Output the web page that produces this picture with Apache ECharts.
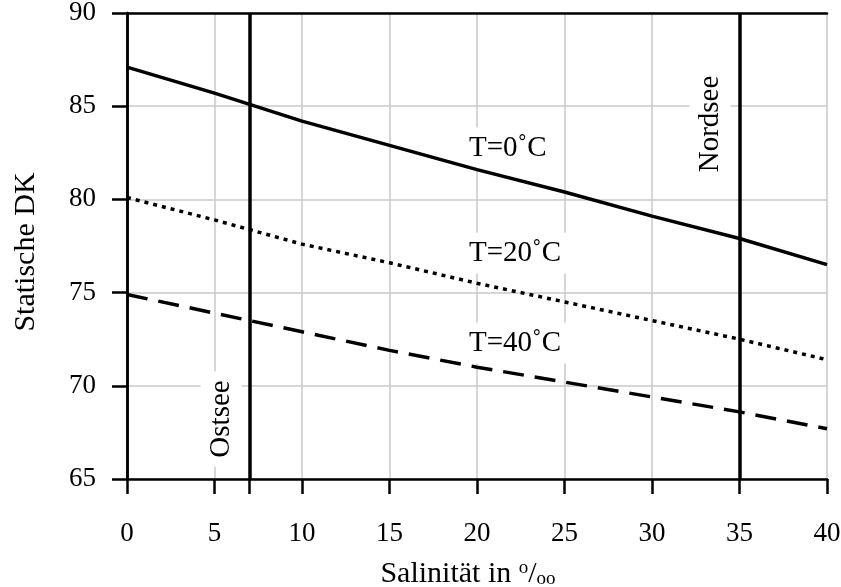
<!DOCTYPE html>
<html lang="de">
<head>
    <meta charset="UTF-8">
    <title>Statische DK von Meerwasser</title>
    <script src="https://cdn.jsdelivr.net/npm/echarts@6/dist/echarts.min.js"></script>
    <style>
        body {
            margin: 0;
            padding: 0;
            background: #fff;
        }

        #chart {
            width: 841px;
            height: 587px;
        }
    </style>
</head>
<body>
    <div id="chart"></div>

    <script>
        // Salinität in Promille
        var salinity = [0, 5, 10, 15, 20, 25, 30, 35, 40];
        // statische DK bei 0, 20 und 40 Grad
        var dk0 = [87.1, 85.7, 84.2, 82.9, 81.6, 80.4, 79.1, 77.9, 76.5];
        var dk20 = [80.1, 78.9, 77.6, 76.6, 75.5, 74.5, 73.5, 72.5, 71.4];
        var dk40 = [74.9, 73.9, 72.9, 71.9, 71.0, 70.2, 69.4, 68.6, 67.7];
        var seriesNames = ['T=0˚C', 'T=20˚C', 'T=40˚C'];
        // Ostsee / Nordsee
        var seaSalinity = [7, 35];
        var seaNames = ['Ostsee', 'Nordsee'];
        var xTicks = [0, 5, 10, 15, 20, 25, 30, 35, 40];

        var font = 'Liberation Serif, Times New Roman, serif';

        function pairs(ys) {
            return salinity.map(function (s, i) { return [s, ys[i]]; });
        }

        // Beschriftung mit weissem Kasten, unter den Kurven
        function labelBox(text, x, y, rot) {
            return {
                type: 'text',
                x: x,
                y: y,
                rotation: rot,
                z: 1,
                style: {
                    text: text,
                    fontFamily: font,
                    fontSize: 29,
                    fill: '#000',
                    align: rot ? 'center' : 'left',
                    verticalAlign: 'middle',
                    backgroundColor: '#fff',
                    padding: rot ? [6, 9] : [6, 8]
                }
            };
        }

        // nur Rahmen oben / rechts
        var frameAxis = {
            show: true,
            axisLine: { show: true, lineStyle: { color: '#000', width: 2.5 } },
            axisTick: { show: false },
            axisLabel: { show: false },
            splitLine: { show: false }
        };

        var chart = echarts.init(document.getElementById('chart'));

        var option = {
            animation: false,
            textStyle: { fontFamily: font, color: '#000' },
            grid: {
                left: 127,
                right: 14,
                top: 13,
                bottom: 108,
                outerBoundsMode: 'none'
            },
            xAxis: [
                {
                    type: 'value',
                    min: 0,
                    max: 40,
                    interval: 5,
                    name: 'Salinität in {sup|o}/{sub|oo}',
                    nameLocation: 'middle',
                    nameGap: 80,
                    nameTextStyle: {
                        fontFamily: font,
                        fontSize: 30,
                        color: '#000',
                        padding: [0, 18, 0, 0],
                        rich: {
                            sup: { fontFamily: font, fontSize: 19, verticalAlign: 'top', color: '#000' },
                            sub: { fontFamily: font, fontSize: 19, verticalAlign: 'bottom', color: '#000' }
                        }
                    },
                    axisLine: { lineStyle: { color: '#000', width: 2.5 } },
                    axisTick: {
                        length: 15,
                        customValues: xTicks.concat(seaSalinity),
                        lineStyle: { color: '#000', width: 2.5 }
                    },
                    axisLabel: {
                        fontFamily: font,
                        fontSize: 27,
                        color: '#000',
                        margin: 41
                    },
                    splitLine: { lineStyle: { color: '#c8c8c8', width: 1.5 } }
                },
                Object.assign({ type: 'value', position: 'top', min: 0, max: 40 }, frameAxis)
            ],
            yAxis: [
                {
                    type: 'value',
                    min: 65,
                    max: 90,
                    interval: 5,
                    name: 'Statische DK',
                    nameLocation: 'middle',
                    nameGap: 86,
                    nameTextStyle: { fontFamily: font, fontSize: 30, color: '#000', padding: [0, 12, 0, 0] },
                    axisLine: { show: true, lineStyle: { color: '#000', width: 2.5 } },
                    axisTick: { show: true, length: 15, lineStyle: { color: '#000', width: 2.5 } },
                    axisLabel: {
                        fontFamily: font,
                        fontSize: 27,
                        color: '#000',
                        margin: 31
                    },
                    splitLine: { lineStyle: { color: '#c8c8c8', width: 1.5 } }
                },
                Object.assign({ type: 'value', position: 'right', min: 65, max: 90 }, frameAxis)
            ],
            series: [
                {
                    name: seriesNames[0],
                    type: 'line',
                    data: pairs(dk0),
                    symbol: 'none',
                    lineStyle: { color: '#000', width: 3.5, type: 'solid' },
                    markLine: {
                        silent: true,
                        symbol: 'none',
                        label: { show: false },
                        lineStyle: { color: '#000', width: 3.5, type: 'solid' },
                        data: seaSalinity.map(function (s) { return { xAxis: s }; })
                    }
                },
                {
                    name: seriesNames[1],
                    type: 'line',
                    data: pairs(dk20),
                    symbol: 'none',
                    lineStyle: { color: '#000', width: 3.5, type: [4, 5] }
                },
                {
                    name: seriesNames[2],
                    type: 'line',
                    data: pairs(dk40),
                    symbol: 'none',
                    lineStyle: { color: '#000', width: 3.5, type: [21, 11] }
                }
            ],
            graphic: [
                labelBox(seriesNames[0], 461, 148, 0),
                labelBox(seriesNames[1], 461, 253, 0),
                labelBox(seriesNames[2], 461, 343, 0),
                labelBox(seaNames[0], 221, 419, Math.PI / 2),
                labelBox(seaNames[1], 710, 124, Math.PI / 2)
            ]
        };

        chart.setOption(option);
    </script>
</body>
</html>
